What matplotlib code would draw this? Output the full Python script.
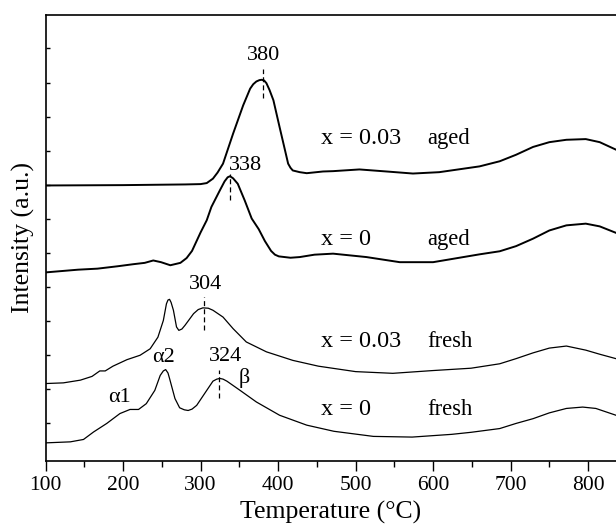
import numpy as np
import matplotlib
matplotlib.use("Agg")
import matplotlib.pyplot as plt
from matplotlib.ticker import MultipleLocator

plt.rcParams['font.family'] = ['Liberation Serif', 'DejaVu Serif']

# x = 0.03, aged
t_aged03 = [100, 200, 280, 300, 308, 316, 322, 329, 342, 355, 364, 368, 372, 376, 379, 382, 385, 389, 394, 402, 409, 413, 416, 419, 428, 437, 458, 471, 505, 540, 574, 608, 660, 686, 707, 729, 750, 772, 797, 815, 836]
y_aged03 = [7.98, 7.99, 8.01, 8.02, 8.05, 8.18, 8.36, 8.62, 9.50, 10.33, 10.82, 10.95, 11.03, 11.07, 11.08, 11.06, 10.98, 10.78, 10.48, 9.69, 9.01, 8.62, 8.50, 8.42, 8.37, 8.34, 8.39, 8.40, 8.45, 8.39, 8.33, 8.37, 8.54, 8.69, 8.88, 9.11, 9.25, 9.32, 9.34, 9.25, 9.03]

# x = 0, aged
t_aged0 = [100, 142, 167, 193, 213, 228, 239, 249, 261, 274, 282, 289, 300, 308, 314, 325, 331, 335, 338, 342, 348, 357, 366, 375, 383, 391, 396, 401, 416, 428, 447, 471, 514, 557, 600, 660, 686, 707, 729, 750, 772, 797, 815, 836]
y_aged0 = [5.43, 5.51, 5.54, 5.61, 5.67, 5.71, 5.78, 5.73, 5.64, 5.71, 5.85, 6.06, 6.60, 6.96, 7.35, 7.84, 8.10, 8.22, 8.25, 8.19, 8.03, 7.54, 7.01, 6.70, 6.35, 6.06, 5.95, 5.90, 5.86, 5.88, 5.95, 5.98, 5.88, 5.73, 5.73, 5.96, 6.05, 6.20, 6.42, 6.66, 6.81, 6.86, 6.78, 6.59]

# x = 0.03, fresh
t_fresh03 = [100, 123, 145, 160, 170, 177, 187, 205, 222, 235, 245, 252, 256, 258, 260, 262, 265, 269, 272, 276, 280, 291, 297, 303, 310, 316, 329, 342, 359, 385, 419, 452, 500, 548, 599, 649, 686, 707, 729, 750, 772, 797, 815, 836]
y_fresh03 = [2.17, 2.19, 2.27, 2.38, 2.54, 2.54, 2.68, 2.87, 3.00, 3.19, 3.53, 4.02, 4.51, 4.62, 4.64, 4.55, 4.32, 3.83, 3.73, 3.77, 3.88, 4.22, 4.34, 4.39, 4.38, 4.32, 4.12, 3.78, 3.39, 3.10, 2.85, 2.68, 2.52, 2.47, 2.55, 2.62, 2.75, 2.90, 3.07, 3.21, 3.27, 3.15, 3.03, 2.90]

# x = 0, fresh
t_fresh0 = [100, 132, 149, 162, 179, 196, 209, 220, 230, 241, 248, 252, 255, 258, 260, 267, 273, 279, 284, 289, 295, 308, 316, 321, 325, 329, 334, 351, 372, 402, 437, 472, 523, 573, 624, 649, 686, 707, 729, 750, 772, 793, 810, 836]
y_fresh0 = [0.43, 0.46, 0.53, 0.75, 1.00, 1.29, 1.41, 1.41, 1.58, 1.97, 2.41, 2.54, 2.58, 2.48, 2.32, 1.73, 1.46, 1.40, 1.38, 1.42, 1.53, 1.97, 2.24, 2.30, 2.32, 2.30, 2.24, 1.97, 1.63, 1.24, 0.95, 0.77, 0.62, 0.60, 0.68, 0.74, 0.85, 1.00, 1.14, 1.31, 1.44, 1.48, 1.44, 1.24]

peak_t = [380, 338, 304, 324]
peak_lo = [10.55, 7.54, 3.75, 1.76]
peak_hi = [11.39, 8.33, 4.72, 2.58]
peak_lab_xy = [(381, 11.8), (358, 8.58), (306, 5.07), (332, 2.97)]

sample_labels = ['x = 0.03', 'x = 0', 'x = 0.03', 'x = 0']
state_labels = ['aged', 'aged', 'fresh', 'fresh']
label_y = [9.36, 6.40, 3.39, 1.41]

fig = plt.figure(figsize=(6.16, 5.28), dpi=100)
ax = fig.add_axes([0.0739, 0.127, 0.9261, 0.8446])

ax.plot(t_aged03, y_aged03, color='black', lw=1.4)
ax.plot(t_aged0, y_aged0, color='black', lw=1.4)
ax.plot(t_fresh03, y_fresh03, color='black', lw=0.9)
ax.plot(t_fresh0, y_fresh0, color='black', lw=0.9)

for t, lo, hi, (lx, ly) in zip(peak_t, peak_lo, peak_hi, peak_lab_xy):
    ax.plot([t, t], [lo, hi], color='black', lw=0.9, ls=(0, (4, 2.5)))
    ax.text(lx, ly, str(t), ha='center', va='center', fontsize=16)

for s, st, y in zip(sample_labels, state_labels, label_y):
    ax.text(456, y, s, ha='left', va='center', fontsize=17.5)
    ax.text(592, y, st, ha='left', va='center', fontsize=16.3)

ax.text(252, 2.92, 'α2', ha='center', va='center', fontsize=16)
ax.text(195, 1.77, 'α1', ha='center', va='center', fontsize=16)
ax.text(356, 2.32, 'β', ha='center', va='center', fontsize=16)

ax.set_xlim(100, 836)
ax.set_ylim(-0.1, 12.98)
ax.xaxis.set_major_locator(MultipleLocator(100))
ax.xaxis.set_minor_locator(MultipleLocator(50))
ax.set_yticks(np.arange(1, 13))
ax.set_yticklabels([])
ax.tick_params(axis='x', which='major', direction='out', length=7, width=1, labelsize=15.5, pad=4)
ax.tick_params(axis='x', which='minor', direction='out', length=4, width=1)
ax.tick_params(axis='y', which='major', direction='in', length=3, width=1, left=True)
ax.spines['right'].set_visible(False)
for sp in ['left', 'bottom', 'top']:
    ax.spines[sp].set_linewidth(1.2)

ax.set_xlabel('Temperature (°C)', fontsize=18.5, labelpad=4)
ax.set_ylabel('Intensity (a.u.)', fontsize=18.5, labelpad=4)

plt.savefig('out.png', dpi=100)
